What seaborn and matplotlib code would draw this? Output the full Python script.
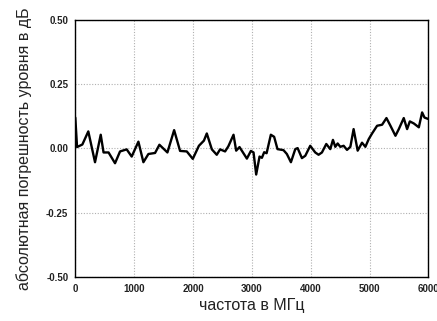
import matplotlib
matplotlib.use("Agg")
import matplotlib.pyplot as plt
import seaborn as sns
import pandas as pd
from matplotlib.ticker import MultipleLocator

freq_mhz = [0, 30, 120, 221, 335, 432, 480, 565, 675, 760, 873, 958, 1072, 1157, 1242,
            1355, 1429, 1497, 1565, 1679, 1780, 1894, 1996, 2100, 2185, 2234, 2320, 2403,
            2460, 2545, 2600, 2688, 2733, 2790, 2915, 2983, 3028, 3073, 3130, 3170, 3209,
            3250, 3322, 3378, 3435, 3537, 3594, 3663, 3737, 3777, 3850, 3907, 3991, 4076,
            4133, 4190, 4264, 4332, 4377, 4417, 4457, 4502, 4559, 4616, 4673, 4728, 4797,
            4871, 4928, 4985, 5042, 5127, 5212, 5286, 5354, 5439, 5496, 5580, 5637, 5683,
            5751, 5836, 5892, 5932, 6000]
error_db = [0.120, 0.005, 0.015, 0.066, -0.054, 0.053, -0.016, -0.016, -0.058, -0.012,
            -0.004, -0.032, 0.026, -0.054, -0.022, -0.018, 0.014, -0.001, -0.016, 0.071,
            -0.010, -0.012, -0.041, 0.010, 0.030, 0.058, -0.004, -0.025, -0.004, -0.012,
            0.008, 0.053, -0.009, 0.005, -0.040, -0.010, -0.016, -0.102, -0.032, -0.037,
            -0.015, -0.019, 0.053, 0.045, -0.003, -0.007, -0.022, -0.054, -0.003, 0.001,
            -0.038, -0.029, 0.010, -0.016, -0.025, -0.016, 0.017, -0.003, 0.033, 0.006,
            0.019, 0.006, 0.010, -0.006, 0.006, 0.075, -0.009, 0.022, 0.006, 0.036, 0.058,
            0.088, 0.092, 0.118, 0.088, 0.049, 0.075, 0.118, 0.075, 0.105, 0.097, 0.082,
            0.140, 0.120, 0.114]
x_ticks = [0, 1000, 2000, 3000, 4000, 5000, 6000]
y_ticks = [-0.50, -0.25, 0.00, 0.25, 0.50]
x_label = "частота в МГц"
y_label = "абсолютная погрешность уровня в дБ"

sns.set_style("white")
plt.rcParams['font.family'] = ['Liberation Sans', 'DejaVu Sans']

df = pd.DataFrame({"f": freq_mhz, "e": error_db})

fig = plt.figure(figsize=(4.37, 3.21), dpi=100)
ax = fig.add_axes([0.1723, 0.138, 0.8082, 0.7997])
sns.lineplot(data=df, x="f", y="e", ax=ax, color="black", linewidth=1.7)

ax.set_xlim(0, 6000)
ax.set_ylim(-0.5, 0.5)
ax.set_xticks(x_ticks)
ax.set_xticklabels([str(t) for t in x_ticks])
ax.set_yticks(y_ticks)
ax.set_yticklabels([f"{t:.2f}" for t in y_ticks])
ax.xaxis.set_minor_locator(MultipleLocator(500))
ax.yaxis.set_minor_locator(MultipleLocator(0.125))

ax.grid(True, which="major", color="#b0b0b0", linestyle=(0, (1, 1.5)), linewidth=0.8)
ax.tick_params(axis="both", which="major", direction="out", length=3, width=1,
               labelsize=7, labelcolor="#222222", colors="black", pad=2)
ax.tick_params(axis="both", which="minor", direction="in", length=2.5, width=1,
               colors="black")
for lab in ax.get_xticklabels() + ax.get_yticklabels():
    lab.set_fontweight("bold")
for s in ax.spines.values():
    s.set_visible(True)
    s.set_color("black")
    s.set_linewidth(1.0)

ax.set_xlabel(x_label, fontsize=11.5, color="#222222", labelpad=3)
ax.set_ylabel(y_label, fontsize=11.5, color="#222222", labelpad=10)

fig.savefig("out.png", dpi=100)
